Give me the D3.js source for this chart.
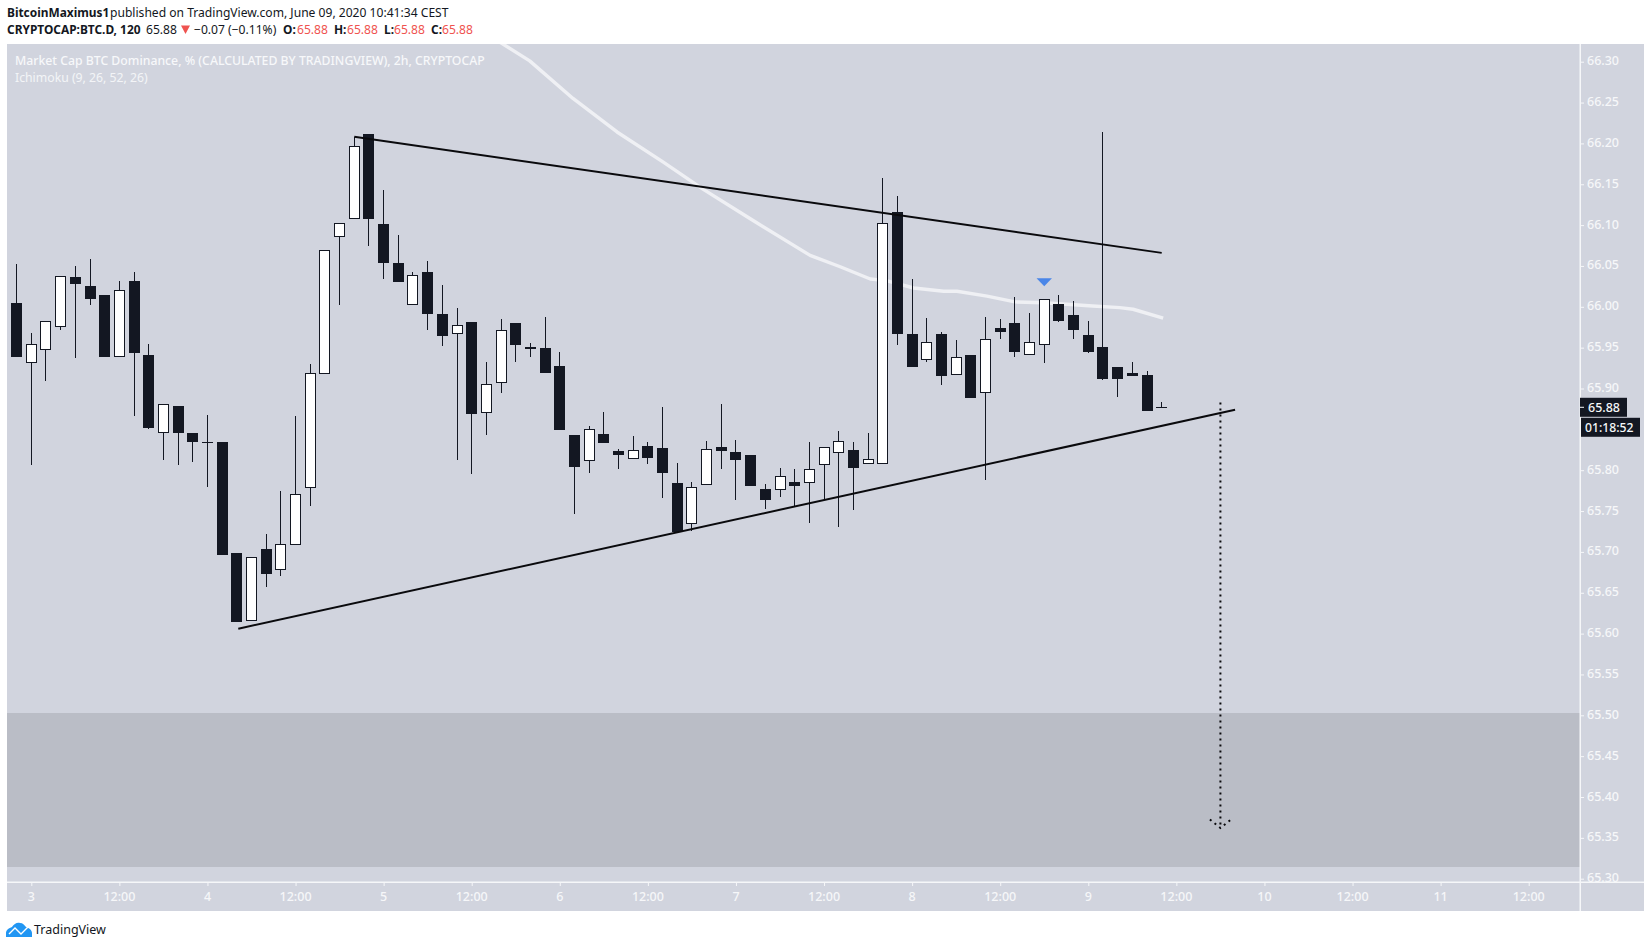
<!DOCTYPE html>
<html><head><meta charset="utf-8">
<script src="https://cdn.jsdelivr.net/npm/d3@7"></script>
<style>
html,body{margin:0;padding:0;background:#fff;overflow:hidden}
svg{display:block}
text{font-family:"Noto Sans","Open Sans",sans-serif}
</style></head><body>
<svg id="c" width="1651" height="948"></svg>
<script>
// ---------- data ----------
const firstCandleHour = -2; // hours from 3 June 00:00
const candleStepHours = 2;
const opens = [66.005,65.931,65.947,65.975,66.036,66.026,66.014,65.939,66.031,65.941,65.845,65.879,65.845,65.835,65.835,65.699,65.616,65.703,65.678,65.709,65.778,65.918,66.085,66.107,66.211,66.101,66.053,66.002,66.042,65.991,65.967,65.982,65.870,65.907,65.980,65.948,65.949,65.927,65.843,65.811,65.844,65.824,65.814,65.830,65.827,65.784,65.734,65.782,65.828,65.822,65.819,65.777,65.776,65.785,65.784,65.806,65.821,65.825,65.807,65.808,66.116,65.967,65.935,65.967,65.916,65.941,65.894,65.974,65.980,65.941,65.953,66.003,65.990,65.965,65.951,65.926,65.919,65.916,65.877];
const highs = [66.052,65.968,65.983,66.038,66.050,66.058,66.014,66.032,66.042,65.954,65.881,65.879,65.845,65.867,65.835,65.699,65.694,65.722,65.775,65.866,65.930,66.069,66.103,66.208,66.212,66.143,66.088,66.042,66.056,66.027,65.999,65.982,65.932,65.985,65.980,65.956,65.987,65.945,65.843,65.854,65.871,65.826,65.842,65.834,65.877,65.809,65.786,65.836,65.881,65.837,65.819,65.783,65.803,65.802,65.835,65.829,65.848,65.835,65.846,66.158,66.136,66.034,65.986,65.969,65.959,65.941,65.988,65.985,66.012,65.992,66.009,66.014,66.007,65.983,66.214,65.926,65.932,65.921,65.883];
const lows = [65.939,65.806,65.909,65.972,65.937,66.002,65.938,65.939,65.866,65.851,65.812,65.806,65.810,65.779,65.696,65.614,65.616,65.657,65.671,65.709,65.756,65.918,66.002,66.107,66.074,66.034,66.030,66.002,65.972,65.952,65.813,65.795,65.843,65.895,65.932,65.938,65.919,65.849,65.747,65.797,65.833,65.801,65.814,65.808,65.766,65.724,65.726,65.782,65.802,65.763,65.781,65.752,65.767,65.756,65.735,65.764,65.730,65.751,65.807,65.808,65.953,65.926,65.932,65.904,65.916,65.888,65.788,65.960,65.939,65.941,65.931,65.982,65.961,65.944,65.911,65.890,65.915,65.873,65.876];
const closes = [65.939,65.954,65.983,66.038,66.028,66.009,65.938,66.021,65.944,65.852,65.881,65.846,65.834,65.833,65.696,65.614,65.694,65.673,65.710,65.771,65.919,66.069,66.103,66.197,66.107,66.054,66.030,66.039,65.991,65.964,65.978,65.869,65.905,65.972,65.953,65.951,65.919,65.849,65.804,65.851,65.833,65.818,65.825,65.815,65.797,65.724,65.780,65.826,65.823,65.812,65.781,65.764,65.793,65.781,65.802,65.829,65.836,65.803,65.814,66.102,65.967,65.926,65.957,65.915,65.939,65.888,65.961,65.969,65.945,65.957,66.009,65.983,65.971,65.945,65.912,65.912,65.915,65.873,65.877];

const maHours = [62.4,67.9,73.8,79.8,86.1,91.5,97.9,106.1,110.2,114.3,116.5,120.2,124.3,126.1,130.2,134,138,144.6,148.3,150.1,154.2];
const maValues = [66.332,66.301,66.255,66.214,66.177,66.144,66.108,66.063,66.049,66.034,66.032,66.023,66.019,66.019,66.013,66.006,66.005,66.001,65.999,65.997,65.986];

const upperTrendHours = [44,154];
const upperTrendValues = [66.208,66.066];
const lowerTrendHours = [28.2,164];
const lowerTrendValues = [65.606,65.874];
const arrowHour = 162;
const arrowValues = [65.883,65.362];
const zoneValues = [65.5025,65.3145];
const markerHour = 138;
const markerValue = 66.035;
const lastPrice = 65.877;
const countdown = "01:18:52";

const yTicks = [66.30,66.25,66.20,66.15,66.10,66.05,66.00,65.95,65.90,65.80,65.75,65.70,65.65,65.60,65.55,65.50,65.45,65.40,65.35,65.30];
const xTickHours = [0,12,24,36,48,60,72,84,96,108,120,132,144,156,168,180,192,204];
const xTickLabels = ["3","12:00","4","12:00","5","12:00","6","12:00","7","12:00","8","12:00","9","12:00","10","12:00","11","12:00"];

// ---------- scales ----------
const t0 = Date.UTC(2020,5,3);
const hourMs = 3600000;
const toDate = h => new Date(t0 + h*hourMs);
const x = d3.scaleUtc().domain([toDate(0),toDate(204)]).range([31.3,1528.7]);
const y = d3.scaleLinear().domain([65.30,66.30]).range([878.7,61.7]);

const BG="#d1d4de", ZONE="#babdc6", DARK="#131722", RED="#ef5350", AXIS="#f6f7f9";
const L=7,T=44,AX=1580,AY=882,R=1644,B=911;

const svg=d3.select("#c");
const defs=svg.append("defs");
defs.append("clipPath").attr("id","plot").append("rect").attr("x",L).attr("y",T).attr("width",AX-L).attr("height",AY-T);
defs.append("clipPath").attr("id","yax").append("rect").attr("x",AX).attr("y",T).attr("width",R-AX).attr("height",AY-T);

// panel
svg.append("rect").attr("x",L).attr("y",T).attr("width",R-L).attr("height",B-T).attr("fill",BG);

const plot=svg.append("g").attr("clip-path","url(#plot)");
// zone
plot.append("rect").attr("x",L).attr("width",AX-L)
  .attr("y",Math.round(y(zoneValues[0]))).attr("height",Math.round(y(zoneValues[1]))-Math.round(y(zoneValues[0])))
  .attr("fill",ZONE);

// moving line
plot.append("path").datum(maHours.map((h,i)=>[h,maValues[i]]))
  .attr("fill","none").attr("stroke","#eff0f4").attr("stroke-width",3.4).attr("stroke-linejoin","round")
  .attr("d",d3.line().x(d=>x(toDate(d[0]))).y(d=>y(d[1])));

// candles
const candles=opens.map((o,i)=>({o,h:highs[i],l:lows[i],c:closes[i],t:toDate(firstCandleHour+i*candleStepHours)}));
const cg=plot.append("g").attr("shape-rendering","crispEdges");
const px=d=>Math.floor(x(d.t));
cg.selectAll("rect.w").data(candles).join("rect").attr("class","w")
  .attr("x",d=>px(d)).attr("width",1)
  .attr("y",d=>Math.round(y(d.h))).attr("height",d=>Math.max(1,Math.round(y(d.l))-Math.round(y(d.h))))
  .attr("fill",DARK);
cg.selectAll("rect.b").data(candles).join("rect").attr("class","b")
  .each(function(d){
    const top=Math.round(y(Math.max(d.o,d.c))),bot=Math.round(y(Math.min(d.o,d.c)));
    const s=d3.select(this);
    if(d.c>d.o){
      s.attr("x",px(d)-4.5).attr("width",10).attr("y",top+.5).attr("height",Math.max(1,bot-top-1))
       .attr("fill","#fff").attr("stroke",DARK).attr("stroke-width",1);
    }else{
      s.attr("x",px(d)-5).attr("width",11).attr("y",top).attr("height",Math.max(1,bot-top)).attr("fill",DARK);
    }
  });

// trend lines
[[upperTrendHours,upperTrendValues],[lowerTrendHours,lowerTrendValues]].forEach(([hs,vs])=>{
  plot.append("line").attr("x1",x(toDate(hs[0]))).attr("x2",x(toDate(hs[1])))
    .attr("y1",y(vs[0])).attr("y2",y(vs[1])).attr("stroke","#0a0a0d").attr("stroke-width",2);
});

// dotted projection arrow
const ax=x(toDate(arrowHour)), ay0=y(arrowValues[0]), ay1=y(arrowValues[1]);
plot.append("line").attr("x1",ax).attr("x2",ax).attr("y1",ay0).attr("y2",ay1)
  .attr("stroke","#0a0a0d").attr("stroke-width",2).attr("stroke-dasharray","2 4");
plot.append("path").attr("d",`M${ax-10.5},${ay1-8.5}L${ax},${ay1}L${ax+10.5},${ay1-8.5}`)
  .attr("fill","none").attr("stroke","#0a0a0d").attr("stroke-width",2).attr("stroke-dasharray","2 4");

// blue marker
const mx=x(toDate(markerHour)), my=y(markerValue);
plot.append("path").attr("d",`M${mx-7.7},${my}L${mx+7.7},${my}L${mx},${my+8}Z`).attr("fill","#4a86e8");

// y axis
const yAxis=d3.axisRight(y).tickValues(yTicks).tickFormat(d3.format(".2f")).tickSize(4).tickPadding(3);
const yg=svg.append("g").attr("clip-path","url(#yax)").append("g").attr("transform",`translate(${AX},0)`).call(yAxis);
yg.select(".domain").remove();
yg.selectAll("line").attr("stroke",AXIS);
yg.selectAll("text").attr("fill",AXIS).attr("font-size",12.5).attr("font-family",'"Noto Sans"').attr("font-weight",500).attr("dy","0.24em");

// x axis
const xAxis=d3.axisBottom(x).tickValues(xTickHours.map(toDate)).tickFormat((d,i)=>xTickLabels[i]).tickSize(4).tickPadding(6);
const xg=svg.append("g").attr("transform",`translate(0,${AY})`).call(xAxis);
xg.select(".domain").remove();
xg.selectAll("line").attr("stroke",AXIS);
xg.selectAll("text").attr("fill",AXIS).attr("font-size",12.5).attr("font-family",'"Noto Sans"').attr("font-weight",500).attr("dx","-0.5");

// axis lines
svg.append("rect").attr("x",L).attr("y",AY-.5).attr("width",R-L).attr("height",1.5).attr("fill",AXIS);
svg.append("rect").attr("x",AX-.5).attr("y",T).attr("width",1.5).attr("height",B-T).attr("fill",AXIS);

// price / countdown tags
const py=y(lastPrice);
svg.append("rect").attr("x",AX).attr("y",py-9.5).attr("width",47).attr("height",19).attr("fill",DARK);
svg.append("rect").attr("x",AX).attr("y",py-.5).attr("width",4).attr("height",1).attr("fill",AXIS);
svg.append("text").attr("x",AX+8).attr("y",py+4.5).attr("fill",AXIS).attr("font-size",12.5).attr("font-weight",500).text(d3.format(".2f")(lastPrice));
svg.append("rect").attr("x",AX+1).attr("y",py+10.5).attr("width",59).attr("height",19).attr("fill",DARK);
svg.append("text").attr("x",AX+5).attr("y",py+24.5).attr("fill",AXIS).attr("font-size",12.2).attr("font-weight",500).text(countdown);

// legend in panel
svg.append("text").attr("x",15).attr("y",65).attr("font-size",12.25).attr("fill","#f7f8fa").attr("font-weight",500)
  .text("Market Cap BTC Dominance, % (CALCULATED BY TRADINGVIEW), 2h, CRYPTOCAP");
svg.append("text").attr("x",15).attr("y",82).attr("font-size",12.25).attr("fill","#f3f4f7").attr("font-weight",400)
  .text("Ichimoku (9, 26, 52, 26)");

// header
const hdr=(xp,yp,t,fill,w)=>svg.append("text").attr("x",xp).attr("y",yp).attr("font-size",w?11.9:12.1).attr("fill",fill).attr("font-weight",w||400).text(t);
hdr(7,17,"BitcoinMaximus1",DARK,700);
hdr(110,17,"published on TradingView.com, June 09, 2020 10:41:34 CEST",DARK);
hdr(7,34,"CRYPTOCAP:BTC.D, 120",DARK,700);
hdr(146,34,"65.88",DARK);
svg.append("path").attr("d","M181,25.5L190,25.5L185.5,34Z").attr("fill",RED);
hdr(194,34,"−0.07 (−0.11%)",DARK);
hdr(283,34,"O:",DARK,700); hdr(297,34,"65.88",RED);
hdr(334,34,"H:",DARK,700); hdr(347,34,"65.88",RED);
hdr(384,34,"L:",DARK,700); hdr(394,34,"65.88",RED);
hdr(431,34,"C:",DARK,700); hdr(442,34,"65.88",RED);

// footer logo
svg.append("path").attr("fill","#2196f3")
  .attr("d","M6,937 L6,933 C6,930 9,928 12,927 C14,924 17,922 20,923 C23,923 24,925 26,927 C29,928 32,930 32,933 L32,937 Z");
svg.append("path").attr("fill","none").attr("stroke","#fff").attr("stroke-width",1.4)
  .attr("d","M9,934 L15,928 L21,934 L28,927");
svg.append("text").attr("x",34).attr("y",934).attr("font-size",12.5).attr("fill",DARK).text("TradingView");
</script>
</body></html>
